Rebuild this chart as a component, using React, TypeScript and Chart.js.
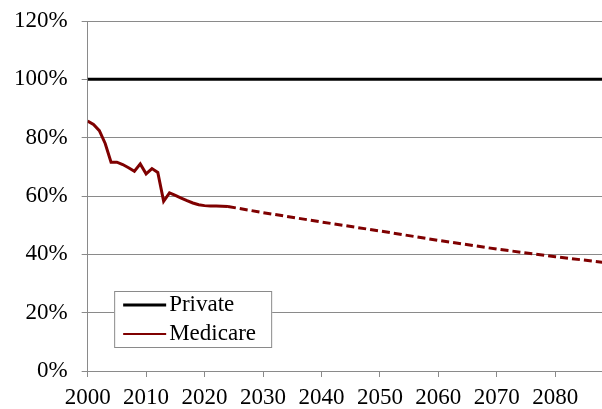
import React, { useEffect, useRef } from "react";
import { Chart, registerables } from "chart.js";

Chart.register(...registerables);

const historyYears = [
  2000, 2001, 2002, 2003, 2004, 2005, 2006, 2007, 2008, 2009, 2010, 2011, 2012,
  2013, 2014, 2015, 2016, 2017, 2018, 2019, 2020, 2021, 2022, 2023, 2024,
];
const medicareHistory = [
  85.7, 84.5, 82.4, 78.0, 71.6, 71.6, 70.8, 69.7, 68.5, 71.0, 67.6, 69.4, 68.1,
  58.2, 61.1, 60.2, 59.3, 58.4, 57.6, 57.0, 56.7, 56.6, 56.6, 56.5, 56.4,
];
const projectionYears = [2024, 2030, 2040, 2050, 2060, 2070, 2080, 2090];
const medicareProjection = [56.4, 54.3, 51.1, 48.0, 44.8, 41.8, 39.2, 36.8];
const privateYears = [2000, 2090];
const privateValues = [100, 100];
const yTicks = [0, 20, 40, 60, 80, 100, 120];
const xTickYears = [2000, 2010, 2020, 2030, 2040, 2050, 2060, 2070, 2080];

const FONT = "'Liberation Serif', 'Times New Roman', serif";
const MAROON = "#7f0000";
const GRID = "#8a8a8a";

const legendPlugin = {
  id: "insideLegend",
  afterDraw(chart: any) {
    const { ctx, chartArea } = chart;
    const items = chart.data.datasets.filter((d: any) => !d.hideInLegend);
    const x0 = chartArea.left + 26.5;
    const y0 = chartArea.bottom - 80;
    const w = 158;
    const h = 57;
    ctx.save();
    ctx.fillStyle = "#ffffff";
    ctx.fillRect(x0, y0, w, h);
    ctx.strokeStyle = GRID;
    ctx.lineWidth = 1;
    ctx.strokeRect(x0 + 0.5, y0 + 0.5, w - 1, h - 1);
    ctx.font = `23px ${FONT}`;
    ctx.textBaseline = "middle";
    ctx.textAlign = "left";
    items.forEach((d: any, i: number) => {
      const cy = y0 + 14 + i * 29;
      ctx.strokeStyle = d.borderColor;
      ctx.lineWidth = d.legendLineWidth;
      ctx.setLineDash([]);
      ctx.beginPath();
      ctx.moveTo(x0 + 9, cy);
      ctx.lineTo(x0 + 52, cy);
      ctx.stroke();
      ctx.fillStyle = "#000";
      ctx.fillText(d.label, x0 + 55, cy);
    });
    ctx.restore();
  },
};

export default function App() {
  const ref = useRef<HTMLCanvasElement>(null);
  useEffect(() => {
    if (!ref.current) return;
    const chart = new Chart(ref.current, {
      type: "line",
      data: {
        datasets: [
          {
            label: "Private",
            data: privateYears.map((x, i) => ({ x, y: privateValues[i] })),
            borderColor: "#000000",
            borderWidth: 3,
            pointRadius: 0,
            legendLineWidth: 3,
          } as any,
          {
            label: "Medicare",
            data: historyYears.map((x, i) => ({ x, y: medicareHistory[i] })),
            borderColor: MAROON,
            borderWidth: 3,
            pointRadius: 0,
            tension: 0,
            legendLineWidth: 2,
          } as any,
          {
            label: "Medicare (projected)",
            data: projectionYears.map((x, i) => ({ x, y: medicareProjection[i] })),
            borderColor: MAROON,
            borderWidth: 3,
            borderDash: [8, 4],
            pointRadius: 0,
            hideInLegend: true,
          } as any,
        ],
      },
      options: {
        animation: false,
        responsive: false,
        layout: { padding: { left: 0, right: 0, top: 21, bottom: -9 } },
        plugins: { legend: { display: false }, tooltip: { enabled: false } },
        scales: {
          x: {
            type: "linear",
            min: 2000,
            max: 2088,
            afterBuildTicks: (scale: any) => {
              scale.ticks = xTickYears.map((v) => ({ value: v }));
            },
            ticks: {
              color: "#000",
              font: { family: FONT, size: 23, lineHeight: 1 },
              padding: 9,
              maxRotation: 0,
              autoSkip: false,
              callback: (v: any) => String(v),
            },
            grid: {
              drawOnChartArea: false,
              drawTicks: true,
              tickLength: 6,
              color: GRID,
              lineWidth: 1,
            },
            border: { color: GRID, width: 1 },
          },
          y: {
            min: 0,
            max: 120,
            afterBuildTicks: (scale: any) => {
              scale.ticks = yTicks.map((v) => ({ value: v }));
            },
            ticks: {
              color: "#000",
              font: { family: FONT, size: 23, lineHeight: 0.4 },
              padding: 14,
              callback: (v: any) => `${v}%`,
            },
            grid: {
              color: GRID,
              lineWidth: 1,
              tickLength: 6,
            },
            border: { color: GRID, width: 1 },
          },
        },
      },
      plugins: [legendPlugin],
    } as any);
    return () => chart.destroy();
  }, []);
  return (
    <div style={{ position: "fixed", left: 0, top: 0, width: 602, height: 409, background: "#fff" }}>
      <canvas ref={ref} width={602} height={409} />
    </div>
  );
}
